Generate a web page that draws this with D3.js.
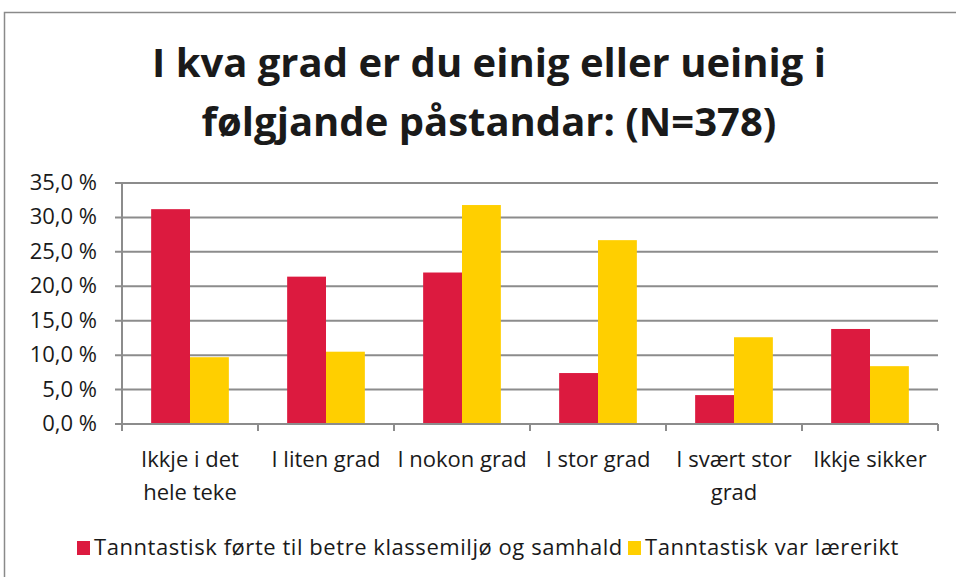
<!DOCTYPE html>
<html>
<head>
<meta charset="utf-8">
<script src="https://cdn.jsdelivr.net/npm/d3@7"></script>
<style>
  body { margin: 0; background: #fff; }
  text { font-family: "Open Sans", Lato, sans-serif; fill: #1a1a1a; }
</style>
</head>
<body>
<div id="chart"></div>
<script>
(function () {

// data
const categories = ["Ikkje i det\nhele teke", "I liten grad", "I nokon grad", "I stor grad", "I svært stor\ngrad", "Ikkje sikker"];
const seriesNames = ["Tanntastisk førte til betre klassemiljø og samhald", "Tanntastisk var lærerikt"];
const klassemiljo = [31.2, 21.4, 22.0, 7.4, 4.2, 13.8];
const larerikt = [9.7, 10.5, 31.8, 26.7, 12.6, 8.4];
const yTicks = [0, 5, 10, 15, 20, 25, 30, 35];
const titleLines = ["I kva grad er du einig eller ueinig i", "følgjande påstandar: (N=378)"];

const colors = ["#dc1a3f", "#ffcf00"];
const W = 956, H = 577;

const svg = d3.select("#chart").append("svg")
    .attr("width", W)
    .attr("height", H);

// outer chart frame (right/bottom edges are outside the picture)
svg.append("rect")
  .attr("x", 4.5).attr("y", 12.5)
  .attr("width", 1000).attr("height", 1000)
  .attr("fill", "none")
  .attr("stroke", "#8a8a8a")
  .attr("stroke-width", 1.5);

// title
const title = svg.append("text")
  .attr("text-anchor", "middle")
  .style("font-weight", "bold")
  .style("font-size", "40px");
title.selectAll("tspan")
  .data(titleLines)
  .join("tspan")
  .attr("x", 489)
  .attr("y", (d, i) => 77 + i * 59)
  .text(d => d);

// scales
const plot = {left: 122, right: 938, top: 183, bottom: 424};
const x = d3.scaleBand().domain(categories).range([plot.left, plot.right]).padding(0);
const xs = d3.scaleBand().domain([0, 1]).range([0, x.bandwidth()]).paddingInner(0).paddingOuter(0.75);
const y = d3.scaleLinear().domain([0, 35]).range([plot.bottom, plot.top]);

// gridlines
svg.append("g")
  .selectAll("line")
  .data(yTicks)
  .join("line")
  .attr("x1", plot.left - 7).attr("x2", plot.right)
  .attr("y1", d => y(d)).attr("y2", d => y(d))
  .attr("stroke", "#8c8c8c")
  .attr("stroke-width", 2);

// y tick labels
svg.append("g")
  .selectAll("text")
  .data(yTicks)
  .join("text")
  .attr("x", 97)
  .attr("y", d => y(d) + 7)
  .attr("text-anchor", "end")
  .style("font-size", "22px")
  .text(d => d3.format(".1f")(d).replace(".", ",") + " %");

// bars
const series = [klassemiljo, larerikt];
series.forEach((vals, s) => {
  svg.append("g")
    .selectAll("rect")
    .data(vals)
    .join("rect")
    .attr("x", (d, i) => x(categories[i]) + xs(s))
    .attr("width", xs.bandwidth())
    .attr("y", d => y(d))
    .attr("height", d => y(0) - y(d))
    .attr("fill", colors[s]);
});

// axes lines
svg.append("line")
  .attr("x1", plot.left).attr("x2", plot.left)
  .attr("y1", plot.top).attr("y2", plot.bottom + 7)
  .attr("stroke", "#8c8c8c").attr("stroke-width", 2);
svg.append("line")
  .attr("x1", plot.left - 7).attr("x2", plot.right)
  .attr("y1", plot.bottom).attr("y2", plot.bottom)
  .attr("stroke", "#8c8c8c").attr("stroke-width", 2);
svg.append("g")
  .selectAll("line")
  .data(categories.concat([null]))
  .join("line")
  .attr("x1", (d, i) => plot.left + i * x.step())
  .attr("x2", (d, i) => plot.left + i * x.step())
  .attr("y1", plot.bottom).attr("y2", plot.bottom + 7)
  .attr("stroke", "#8c8c8c").attr("stroke-width", 2);

// x labels
const xl = svg.append("g")
  .selectAll("text")
  .data(categories)
  .join("text")
  .attr("text-anchor", "middle")
  .style("font-size", "22px");
xl.selectAll("tspan")
  .data(d => d.split("\n").map(t => ({t, c: d})))
  .join("tspan")
  .attr("x", d => x(d.c) + x.bandwidth() / 2)
  .attr("y", (d, i) => 467 + i * 33)
  .text(d => d.t);

// legend
const legendX = [77, 628];
const lg = svg.append("g")
  .selectAll("g")
  .data(seriesNames)
  .join("g")
  .attr("transform", (d, i) => `translate(${legendX[i]},541)`);
lg.append("rect")
  .attr("width", 13).attr("height", 14)
  .attr("fill", (d, i) => colors[i]);
lg.append("text")
  .attr("x", 17).attr("y", 14)
  .style("font-size", "22px")
  .style("letter-spacing", "0.55px")
  .text(d => d);

})();
</script>
</body>
</html>
